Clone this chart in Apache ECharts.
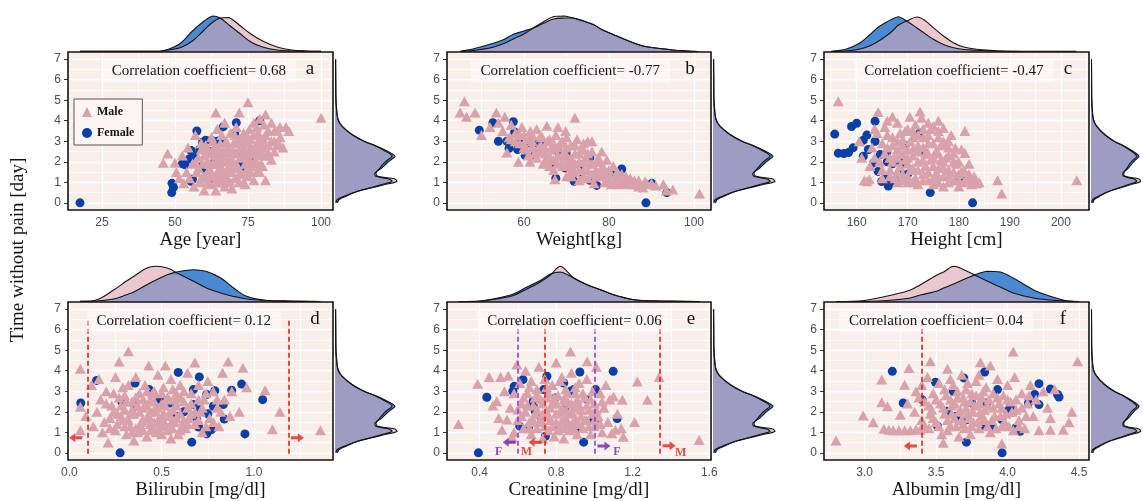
<!DOCTYPE html>
<html><head><meta charset="utf-8">
<script src="https://cdn.jsdelivr.net/npm/echarts@6/dist/echarts.min.js"></script>
<style>html,body{margin:0;padding:0;background:#fff}#c{width:1143px;height:501px}</style>
</head><body><div id="c"></div>
<script>
// ---------------- DATA ----------------
const panelLetters = ['a','b','c','d','e','f'];
const xTitles = ['Age [year]','Weight[kg]','Height [cm]','Bilirubin [mg/dl]','Creatinine [mg/dl]','Albumin [mg/dl]'];
const corrValues = ['0.68','-0.77','-0.47','0.12','0.06','0.04'];
const yTitle = 'Time without pain [day]';
const xRanges = [[13.4,104.1],[41.9,104],[153.6,205.5],[-0.007,1.428],[0.23,1.609],[2.716,4.57]];
const xTicks = [[25,50,75,100],[60,80,100],[160,170,180,190,200],[0,0.5,1.0],[0.4,0.8,1.2,1.6],[3.0,3.5,4.0,4.5]];
const xTickDecimals = [0,0,0,1,1,1];
const yRange = [-0.35, 7.35];
const yTicks = [0,1,2,3,4,5,6,7];

const maleA = [[46,1.95],[47.5,2.4],[50,1.95],[50.5,1.5],[51.5,1.2],[52.5,2.3],[53,0.95],[54,1.5],[54.5,2.7],[55,1.2],[56,1.9],[56.5,0.8],[57,3.3],[57.5,1.5],[58,2.2],[58.5,1.0],[59,2.6],[59.5,1.9],[60,0.6],[60,1.3],[60.5,2.8],[61,2.0],[61.5,1.6],[62,0.9],[62,2.4],[62,1.9],[62.5,3.2],[63,1.3],[63,1.9],[63,2.6],[63.5,2.7],[64,4.4],[64,0.6],[64,2.3],[64.5,3.6],[64.5,1.5],[65,2.2],[65,1.0],[65,1.4],[65.5,2.9],[66,1.7],[66,3.3],[66,2.0],[66.5,2.5],[67,0.8],[67,1.4],[67,3.9],[67.5,2.1],[68,2.9],[68,1.1],[68,2.6],[68.5,1.8],[69,2.5],[69,3.4],[69.5,0.7],[69.5,1.5],[70,2.0],[70,2.9],[70,1.7],[70.5,1.2],[71,2.4],[71,3.7],[71,1.2],[71.5,1.7],[72,4.4],[72,3.1],[72,1.0],[72,2.6],[72.5,2.2],[73,2.7],[73,1.4],[73.5,3.4],[74,1.9],[74,0.9],[74,2.3],[74.5,2.9],[75,4.9],[75,2.4],[75,1.3],[75.5,3.6],[76,1.8],[76,3.1],[76,2.0],[76.5,2.6],[77,1.1],[77,3.9],[77.5,2.1],[78,2.9],[78,1.5],[78,2.6],[78.5,3.4],[79,2.4],[79,4.1],[79.5,1.9],[80,3.1],[80,2.7],[80.5,3.8],[81,4.3],[81,1.1],[81,2.3],[82,3.5],[82,2.8],[83,3.9],[83,2.1],[84,3.0],[84,2.5],[85,3.5],[85.5,2.9],[86,3.7],[87,2.7],[88,3.7],[89,3.5],[100,4.15],
  [58,1.7],[59,1.2],[60,2.3],[61,1.0],[61.5,2.6],[62.5,1.5],[63.5,1.0],[64,1.9],[65,2.6],[65.5,1.2],[66.5,1.0],[67,2.3],[67.5,3.0],[68,1.5],[69,2.1],[69,1.0],[70,2.5],[70.5,3.3],[71,1.9],[71.5,2.9],[72.5,1.5],[73,2.3],[73,3.1],[73.5,1.0],[74,2.6],[74.5,1.6],[75,2.0],[75,3.2],[76,1.5],[76,2.7],[77,2.4],[77,3.3],[78,1.9],[78,3.7],[79,3.0],[79,1.5],[80,2.3],[80,1.8],[81,2.9],[81,3.3],[82,2.4],[83,3.0],[84,3.5],[85,2.8],[86,3.2],[66,1.3],[63,3.0],[61,1.4],[57,2.0],[59,2.9]];
const femaleA = [[17.5,0],[48.9,0.5],[49,0.95],[49.5,0.75],[52.5,1.9],[53.5,1.85],[55.5,1.05],[56,1.15],[55,2.15],[55.5,2.55],[56.5,2.3],[57.5,3.5],[58.5,2.6],[59,1.75],[59.5,2.95],[60.5,3.05],[61,1.45],[62,2.5],[62.5,3.05],[63,1.2],[64,2.9],[64.5,3.0],[65.5,3.05],[66,2.4],[66.5,3.7],[67,0.9],[68,2.45],[69,1.6],[70.5,3.4],[71,3.9],[71.5,2.4],[72,2.9],[73,1.9],[74.5,1.6],[76,2.2],[79,4.0],[60,1.7],[63.5,2.0]];

const maleB = [[45,4.4],[46,4.95],[46.5,4.2],[48.5,4.4],[50,3.3],[52,3.7],[53.5,4.4],[54,3.9],[55,3.5],[55.5,4.2],[56,2.45],[56.5,3.2],[57,3.8],[58,3.4],[58.7,2.0],[59,2.9],[59.5,3.7],[60,3.3],[60,2.7],[60.5,2.6],[61.4,2.0],[61.5,3.5],[62,3.0],[62.5,2.4],[63,3.6],[63,2.5],[63.5,2.7],[64,3.2],[64,3.3],[64.5,1.9],[65,2.4],[65.4,3.75],[65.5,3.0],[66,2.1],[66,2.3],[66.5,2.7],[67,1.6],[67,2.6],[67.3,1.15],[67.5,3.3],[68,2.3],[68,3.7],[68.5,2.9],[69,1.8],[69,2.0],[69.5,2.5],[69.8,3.5],[70,1.3],[70,2.3],[70.5,2.1],[71,2.8],[71,1.5],[71.2,1.3],[71.5,1.7],[72,2.4],[72,4.15],[72,1.9],[72.5,3.1],[73,1.1],[73,2.0],[73.5,2.6],[74,1.6],[74,2.0],[74.5,2.2],[75,3.0],[75,1.2],[75.5,1.9],[76,2.5],[76,3.0],[76,1.4],[76.5,0.95],[77,1.6],[77.5,2.2],[78,1.3],[78,1.6],[78.3,2.5],[78.5,1.8],[79,1.0],[79.5,2.1],[80,1.4],[80,1.1],[80.5,0.9],[81,1.8],[81.5,1.2],[82,1.5],[82.5,0.9],[83,1.1],[84,1.3],[84.5,0.95],[85,1.2],[86,0.9],[87,1.1],[88,0.75],[88.5,1.05],[90,0.95],[91,0.85],[92.8,0.9],[93.5,0.6],[95,0.65],[101.3,0.45],
  [58,3.0],[59,3.3],[60,2.9],[61,3.1],[62,2.7],[62,3.3],[63,2.2],[64,2.8],[64,2.5],[65,2.7],[65,2.0],[66,3.1],[66,1.8],[67,2.1],[67,2.9],[68,1.9],[68,2.7],[69,2.3],[69,3.0],[70,1.9],[70,2.7],[71,2.2],[71,1.8],[72,1.5],[72,2.8],[73,1.6],[73,2.4],[74,2.6],[74,1.3],[75,1.6],[75,2.4],[76,1.9],[77,1.3],[77,2.0],[78,2.0],[79,1.5],[79,1.3],[80,1.6],[81,1.0],[82,1.2],[83,1.4],[84,1.0],[85,0.9],[86,1.1],[87,0.8],[89,0.9],[61,2.3],[57,3.1],[70,3.2],[74,2.9]];
const femaleB = [[49.5,3.54],[52.7,3.9],[57.5,3.95],[57.8,3.45],[54,3.0],[56,3.0],[59.5,3.05],[56.5,2.65],[58.5,2.6],[60.5,2.85],[63.4,2.87],[60.3,2.3],[62.6,2.32],[65.7,2.06],[66.5,1.9],[68,2.5],[70,2.4],[69.6,1.7],[71.8,1.05],[73.2,1.86],[73.6,1.5],[75.5,2.2],[75.5,1.1],[77.1,0.85],[76.7,1.24],[80.3,1.5],[83,1.65],[84.2,1.05],[90.1,0.95],[93.6,0.5],[88.7,0],[64.5,2.9],[67.5,1.2]];

const maleC = [[156.4,4.95],[160.5,3.0],[161,2.2],[161.5,1.1],[162,1.05],[162.5,1.15],[162.6,1.8],[163,2.7],[163.5,3.6],[163.5,2.2],[164.2,4.43],[164,3.4],[164.5,2.0],[165,1.2],[165,2.9],[165.5,3.7],[166,2.7],[166,4.0],[166.5,1.6],[166.5,2.2],[167,4.2],[167,3.2],[167.5,2.3],[167.5,1.2],[168,1.0],[168,3.9],[168,2.6],[168.5,1.8],[168.5,3.4],[169,2.8],[169,1.4],[169.5,3.5],[169.5,2.1],[170,2.2],[170,3.6],[170,1.0],[170.4,4.2],[170.5,3.0],[170.5,1.6],[171,1.7],[171,2.6],[171.5,3.8],[171.5,1.2],[172,0.9],[172,2.0],[172,3.3],[172.4,4.45],[172.7,4.15],[173,3.2],[173,1.4],[173,2.7],[173.5,2.4],[173.5,1.8],[174,2.9],[174,1.1],[174.5,3.6],[174.5,2.1],[175,1.8],[175,3.74],[175,0.9],[175.5,2.5],[175.5,1.4],[176,1.3],[176,3.2],[176,4.0],[176.5,2.1],[176.5,2.8],[177,3.65],[177,0.8],[177,1.7],[177.5,2.8],[177.5,2.2],[178,1.6],[178,2.3],[178,1.0],[178.5,3.3],[179,1.1],[179,2.0],[179.3,2.68],[179.5,1.9],[180,0.8],[180,1.4],[180.5,1.5],[180.5,2.6],[181.2,3.5],[181.2,2.43],[181.5,1.2],[182,1.9],[182,1.4],[182.5,0.9],[183,1.3],[183.5,0.95],[184,1.0],[187.6,1.1],[188.4,0.45],[203.1,1.1],
  [165,1.6],[165.5,2.4],[166,3.3],[166.5,1.3],[167,2.0],[167,2.8],[168,1.5],[168,2.2],[169,1.1],[169,2.4],[169,3.1],[170,1.3],[170,1.9],[170,2.6],[171,1.0],[171,2.3],[171,3.2],[172,1.6],[172,2.5],[172,2.8],[173,1.1],[173,2.1],[173,3.6],[174,1.5],[174,2.4],[174,3.3],[175,1.2],[175,2.2],[175,2.9],[176,1.7],[176,2.4],[176,1.0],[177,2.0],[177,1.3],[177,3.0],[178,1.3],[178,2.7],[179,1.5],[179,2.4],[180,1.1],[180,2.0],[181,1.6],[181,1.0],[182,1.1],[183,1.0],[176,3.5],[174,3.9],[178,3.0],[168,3.0],[171,3.5]];
const femaleC = [[155.7,3.35],[156.4,2.42],[157.5,2.4],[158.4,2.45],[159.3,2.68],[159,3.72],[160,3.88],[161.3,2.27],[161.3,3.05],[162.3,2.6],[162,3.3],[163.6,3.98],[163.6,3.0],[163.3,1.94],[164.6,2.35],[164.2,1.53],[164.9,1.04],[165.5,1.2],[165.9,2.43],[166.5,0.96],[166.2,0.82],[167,1.9],[168.2,1.37],[168.8,1.94],[169.5,2.8],[170,1.4],[172.4,3.4],[173.4,2.42],[174.4,0.5],[180.3,1.15],[182.7,0],[166,2.0],[167.5,1.1]];

const maleD = [[0.06,4.1],[0.06,2.25],[0.06,1.1],[0.09,1.8],[0.12,3.3],[0.13,1.3],[0.15,2.0],[0.16,3.6],[0.17,2.6],[0.18,1.0],[0.19,1.5],[0.2,3.0],[0.21,0.5],[0.22,1.7],[0.23,2.3],[0.24,2.0],[0.25,3.7],[0.25,1.1],[0.26,1.4],[0.27,4.45],[0.27,2.7],[0.28,1.8],[0.29,1.6],[0.29,3.2],[0.3,2.1],[0.31,0.9],[0.31,2.5],[0.32,4.95],[0.32,3.3],[0.33,1.3],[0.33,1.9],[0.34,2.5],[0.35,0.6],[0.35,1.9],[0.36,3.7],[0.36,1.2],[0.37,1.0],[0.37,2.3],[0.38,2.9],[0.39,1.5],[0.4,2.2],[0.4,1.1],[0.41,3.3],[0.42,0.8],[0.42,1.7],[0.43,4.25],[0.43,1.8],[0.44,2.6],[0.44,1.4],[0.45,1.2],[0.45,2.9],[0.46,3.0],[0.46,2.1],[0.47,2.0],[0.47,1.0],[0.48,3.8],[0.48,1.6],[0.49,1.5],[0.5,2.4],[0.5,0.9],[0.5,1.3],[0.51,3.2],[0.51,1.9],[0.52,4.25],[0.52,1.8],[0.53,2.7],[0.53,1.1],[0.54,1.2],[0.55,3.6],[0.55,0.7],[0.56,2.1],[0.56,1.6],[0.57,1.5],[0.57,2.6],[0.58,2.9],[0.59,0.9],[0.6,3.3],[0.6,1.9],[0.61,1.3],[0.62,2.5],[0.63,1.2],[0.64,3.9],[0.65,1.7],[0.66,2.9],[0.68,4.4],[0.68,1.4],[0.7,3.3],[0.71,2.0],[0.72,1.0],[0.73,2.6],[0.75,3.5],[0.76,1.7],[0.78,3.0],[0.8,2.2],[0.81,1.3],[0.83,3.9],[0.84,2.6],[0.86,4.45],[0.87,1.8],[0.88,3.0],[0.92,2.0],[0.94,4.15],[0.96,3.2],[1.06,3.05],[1.1,1.15],[1.14,2.0],[1.36,1.1],
  [0.2,2.4],[0.22,1.2],[0.24,2.9],[0.26,1.9],[0.28,2.3],[0.3,1.3],[0.3,2.8],[0.32,1.6],[0.34,2.1],[0.34,1.0],[0.36,2.7],[0.38,1.3],[0.38,2.0],[0.4,1.6],[0.4,2.6],[0.42,2.3],[0.42,3.0],[0.44,1.1],[0.44,2.0],[0.46,1.5],[0.46,2.5],[0.48,1.2],[0.48,2.2],[0.5,1.7],[0.5,2.9],[0.52,1.4],[0.52,2.3],[0.54,1.9],[0.54,2.6],[0.56,1.2],[0.56,3.1],[0.58,1.7],[0.58,2.3],[0.6,1.1],[0.6,2.7],[0.62,1.6],[0.62,3.0],[0.64,2.2],[0.64,1.4],[0.66,1.9],[0.66,2.4],[0.68,2.0],[0.7,2.6],[0.7,1.6],[0.72,2.2],[0.74,1.3],[0.74,2.9],[0.78,1.5],[0.8,2.6],[0.82,2.0]];
const femaleD = [[0.062,2.43],[0.148,3.53],[0.275,0],[0.284,2.5],[0.356,3.4],[0.356,2.27],[0.433,3.08],[0.49,2.6],[0.545,2.43],[0.581,1.78],[0.59,3.92],[0.663,0.52],[0.672,2.35],[0.672,3.08],[0.69,1.62],[0.7,1.26],[0.704,3.7],[0.707,2.1],[0.744,2.84],[0.744,0.92],[0.77,1.13],[0.78,2.27],[0.788,3.03],[0.834,2.35],[0.839,1.65],[0.879,3.05],[0.933,3.35],[0.951,0.92],[1.047,2.59],[0.62,2.0],[0.75,1.9]];

const maleE = [[0.29,1.41],[0.39,3.37],[0.45,3.7],[0.47,2.3],[0.49,2.51],[0.5,1.7],[0.51,3.7],[0.517,1.13],[0.53,3.0],[0.543,1.62],[0.55,3.76],[0.56,2.2],[0.57,0.75],[0.58,1.0],[0.58,2.9],[0.595,4.3],[0.6,1.6],[0.61,3.4],[0.62,2.4],[0.63,1.2],[0.64,4.0],[0.64,2.0],[0.65,2.9],[0.66,1.5],[0.67,3.5],[0.67,0.9],[0.68,2.3],[0.69,1.9],[0.7,3.1],[0.7,1.2],[0.71,4.2],[0.72,2.6],[0.72,1.6],[0.73,0.7],[0.74,3.6],[0.75,2.0],[0.76,1.1],[0.76,2.9],[0.77,1.6],[0.78,3.3],[0.78,2.4],[0.79,0.8],[0.8,4.4],[0.8,1.9],[0.81,2.8],[0.82,1.3],[0.83,3.7],[0.83,2.2],[0.84,0.7],[0.85,1.7],[0.85,3.1],[0.86,2.5],[0.87,1.1],[0.875,4.94],[0.88,3.9],[0.88,2.0],[0.89,1.5],[0.9,2.9],[0.91,0.9],[0.92,3.4],[0.92,2.3],[0.93,1.8],[0.94,1.2],[0.95,2.7],[0.96,3.6],[0.96,1.6],[0.962,4.46],[0.97,2.1],[0.98,0.9],[0.99,3.0],[1.0,1.3],[1.0,2.4],[1.01,4.2],[1.02,1.8],[1.03,2.9],[1.04,1.0],[1.05,2.2],[1.06,3.3],[1.07,1.5],[1.08,2.6],[1.09,0.95],[1.1,2.75],[1.11,1.13],[1.12,1.9],[1.14,1.2],[1.146,2.59],[1.151,0.78],[1.21,1.5],[1.224,3.48],[1.277,2.59],[1.338,3.7],[1.547,0.62],
  [0.6,2.1],[0.62,1.8],[0.63,2.7],[0.65,2.3],[0.66,1.2],[0.68,1.6],[0.69,2.7],[0.7,2.1],[0.71,1.5],[0.73,2.4],[0.73,1.9],[0.74,1.3],[0.75,2.7],[0.76,1.8],[0.77,2.2],[0.78,1.3],[0.79,2.7],[0.8,1.5],[0.8,2.4],[0.81,1.1],[0.82,2.0],[0.83,1.6],[0.84,2.6],[0.84,1.2],[0.85,2.1],[0.86,1.4],[0.86,2.9],[0.87,1.9],[0.88,2.4],[0.89,1.2],[0.9,2.2],[0.9,1.7],[0.91,2.6],[0.92,1.4],[0.93,2.1],[0.94,2.9],[0.95,1.6],[0.96,2.3],[0.97,1.3],[0.98,2.6],[0.99,1.9],[1.0,1.6],[1.01,2.1],[1.03,1.4],[1.04,2.5],[0.7,2.8],[0.75,3.2],[0.82,3.5],[0.9,3.2],[0.66,3.2]];
const femaleE = [[0.394,0],[0.438,2.71],[0.574,3.0],[0.581,3.24],[0.627,3.57],[0.656,1.22],[0.682,2.27],[0.691,2.03],[0.717,1.78],[0.735,3.08],[0.744,0.81],[0.752,3.73],[0.796,2.67],[0.805,1.3],[0.84,3.4],[0.849,2.27],[0.875,3.0],[0.892,3.08],[0.91,1.22],[0.924,3.94],[0.944,0.52],[0.962,2.59],[0.997,1.62],[1.006,3.08],[1.014,1.54],[1.098,3.97],[1.119,1.67],[0.61,1.3],[0.68,2.5]];

const maleF = [[2.8,0.6],[2.99,1.82],[3.06,1.49],[3.12,2.46],[3.12,3.57],[3.135,1.17],[3.16,2.27],[3.17,1.13],[3.2,1.1],[3.24,1.1],[3.25,1.86],[3.28,3.32],[3.28,1.1],[3.3,2.4],[3.31,4.13],[3.32,1.1],[3.35,2.0],[3.36,1.15],[3.36,3.0],[3.39,1.13],[3.4,1.6],[3.42,2.5],[3.44,3.7],[3.45,1.2],[3.46,4.46],[3.46,1.9],[3.47,2.1],[3.48,2.9],[3.5,1.5],[3.52,3.4],[3.53,2.4],[3.54,0.9],[3.55,0.49],[3.56,1.9],[3.57,2.8],[3.58,4.1],[3.58,1.1],[3.6,1.3],[3.61,2.3],[3.62,3.3],[3.63,1.7],[3.65,2.7],[3.66,0.8],[3.67,2.1],[3.68,3.8],[3.69,1.4],[3.7,2.5],[3.71,3.1],[3.72,1.9],[3.74,0.9],[3.75,2.9],[3.76,1.5],[3.77,2.3],[3.78,3.5],[3.8,1.2],[3.81,2.0],[3.81,4.41],[3.82,2.7],[3.84,1.6],[3.85,3.2],[3.86,2.3],[3.88,1.0],[3.88,4.25],[3.9,2.9],[3.91,1.8],[3.93,3.6],[3.94,2.4],[3.96,1.3],[3.96,0.45],[3.97,2.8],[3.99,1.9],[4.0,3.3],[4.02,2.5],[4.04,1.1],[4.04,4.94],[4.05,3.7],[4.06,2.1],[4.08,1.6],[4.1,2.9],[4.12,1.2],[4.14,2.4],[4.16,3.3],[4.18,1.8],[4.2,2.6],[4.22,1.1],[4.25,3.0],[4.28,2.2],[4.3,1.7],[4.3,1.13],[4.33,3.1],[4.39,1.13],[4.43,1.49],[4.45,2.0],[4.49,4.46],
  [3.45,2.3],[3.48,1.7],[3.5,2.6],[3.52,1.3],[3.55,2.2],[3.56,3.1],[3.58,1.6],[3.6,2.6],[3.61,1.9],[3.63,2.4],[3.64,1.3],[3.65,3.0],[3.66,2.0],[3.68,1.6],[3.69,2.7],[3.7,1.2],[3.71,2.2],[3.72,3.4],[3.73,1.7],[3.74,2.5],[3.75,1.3],[3.76,2.0],[3.78,2.8],[3.79,1.5],[3.8,2.4],[3.82,1.8],[3.83,3.0],[3.84,2.1],[3.86,1.3],[3.87,2.6],[3.89,1.6],[3.9,2.2],[3.92,1.2],[3.93,2.7],[3.95,1.8],[3.96,2.2],[3.98,1.5],[4.0,2.6],[4.01,1.3],[4.03,2.0],[4.06,2.6],[4.08,1.3],[4.1,2.2],[4.13,1.8],[4.15,2.8],[3.42,1.3],[3.38,2.7],[3.6,3.6],[3.8,3.8],[3.4,3.3]];
const femaleF = [[3.194,3.97],[3.27,2.43],[3.403,2.59],[3.496,3.44],[3.51,1.3],[3.577,2.03],[3.62,3.0],[3.64,1.78],[3.694,3.65],[3.712,0.52],[3.716,1.62],[3.75,2.43],[3.83,1.33],[3.84,3.94],[3.856,2.43],[3.9,1.22],[3.93,3.08],[3.96,1.62],[3.962,0],[4.0,2.03],[4.02,2.27],[4.04,1.98],[4.06,1.22],[4.088,1.05],[4.146,2.43],[4.19,2.84],[4.22,3.37],[4.22,2.35],[4.3,3.11],[4.35,2.84],[4.36,2.72]];

// top marginal densities (relative heights), sampled at topX*
const topXA = [17.5,30,40,45,48,52,56,60,63,65.5,68.5,72,76,80,85,90,95,100];
const topMaleA = [0.6,0.6,0.6,0.8,2,4.5,11,22,30,34,34.5,27,18,11,5,2,1,0.6];
const topFemaleA = [0.6,0.6,0.6,1,3,9,21,31,36,34,27,19,10,5,2,1,0.8,0.6];
const topXB = [45,48,52,55,57.5,60,62.2,64.5,67,69.5,71.6,74,76.3,78.5,81,83.5,85.7,88,90.4,95,101];
const topMaleB = [0.5,1.5,4,8,13,18,24,30,35.5,36,34,31,27.5,22,17.5,13,9.3,6,4.3,2,0.5];
const topFemaleB = [0.8,3,7.7,12,17.7,21,24,28.5,33,34,34,31,27.5,22,17.5,13,9.3,6,4.3,2,0.5];
const topXC = [155,158,160.7,162.5,164,165.5,167,168.2,169.8,171.8,173.5,175,177,179,181,183.5,186.7,190,195,203];
const topMaleC = [0.5,1,3,6,10,15,21,27,31,35,31,24.3,16,9,5,2.7,1.5,0.8,0.6,0.6];
const topFemaleC = [0.8,3,9.3,17,24,29,33,35.3,31,24,18,12.7,7.5,4.3,2.5,1.7,1,0.7,0.5,0.5];
const topXD = [0.06,0.15,0.24,0.31,0.35,0.42,0.47,0.53,0.6,0.67,0.74,0.82,0.89,0.96,1.07,1.2,1.36];
const topMaleD = [0.8,2.3,12,21,25.7,34,35.7,34,27.5,21,14.3,9,5.5,3,1.5,1,0.5];
const topFemaleD = [0.6,1,3,7.3,10,17.3,22,27.3,30.7,32.3,30.7,24,14,5.7,1.5,0.8,0.5];
const topXE = [0.29,0.4,0.455,0.52,0.577,0.648,0.717,0.77,0.822,0.892,0.962,1.032,1.1,1.206,1.3,1.45,1.55];
const topMaleE = [0.5,0.8,2,4,6.5,13,20,27,35.7,24,17.3,12.3,7.3,2.3,1.2,0.8,0.5];
const topFemaleE = [0.5,1,2.5,5,8,15,21.5,28,30,24,17.3,12.3,7.3,2.3,1.2,0.6,0.4];
const topXF = [2.8,3.0,3.2,3.32,3.39,3.51,3.553,3.623,3.717,3.787,3.856,3.95,4.04,4.18,4.3,4.41,4.5];
const topMaleF = [0.5,1.5,7.3,12,17.3,27.3,30,35.7,30.7,25.7,21,15,9,4,2,1,0.5];
const topFemaleF = [0.3,0.5,2,4,7,11,14,18,24,28,30.7,30,24,12.3,5.7,1.3,0.5];

// right marginal density of time without pain (same in every panel)
const rightY = [0,0.15,0.3,0.55,0.72,0.88,1.04,1.16,1.29,1.45,1.7,1.94,2.1,2.27,2.5,2.76,3.0,3.33,3.74,4.06,4.55,5.04,6.0,7.0];
const rightMale = [1,2,8,22,36,49,62,60,43,41,45,49,53,57,51,41,29,17,7,3,1.7,1,0.8,0.6];
const rightFemale = [2.5,4,10,22,34,46,57,54,41,40,47,52,56,60,53,42,29,17,7,3,1.5,0.9,0.7,0.6];

// reference lines / arrows / labels (kind: M = male limit, F = female limit)
const refLines = [[],[],[],[{x:0.1,kind:'M'},{x:1.19,kind:'M'}],[{x:0.6,kind:'F'},{x:0.74,kind:'M'},{x:1.0,kind:'F'},{x:1.34,kind:'M'}],[{x:3.4,kind:'M'}]];
const refArrows = [[],[],[],[{x:0.035,y:0.73,dir:'L',kind:'M'},{x:1.235,y:0.73,dir:'R',kind:'M'}],
  [{x:0.555,y:0.52,dir:'L',kind:'F'},{x:0.69,y:0.52,dir:'L',kind:'M'},{x:1.05,y:0.33,dir:'R',kind:'F'},{x:1.39,y:0.35,dir:'R',kind:'M'}],
  [{x:3.32,y:0.33,dir:'L',kind:'M'}]];
const refLabels = [[],[],[],[],[{x:0.5,y:0.06,kind:'F'},{x:0.645,y:0.06,kind:'M'},{x:1.117,y:0.04,kind:'F'},{x:1.45,y:-0.02,kind:'M'}],[]];

const males = [maleA,maleB,maleC,maleD,maleE,maleF];
const females = [femaleA,femaleB,femaleC,femaleD,femaleE,femaleF];
const topX = [topXA,topXB,topXC,topXD,topXE,topXF];
const topMale = [topMaleA,topMaleB,topMaleC,topMaleD,topMaleE,topMaleF];
const topFemale = [topFemaleA,topFemaleB,topFemaleC,topFemaleD,topFemaleE,topFemaleF];

// ---------------- STYLE / LAYOUT ----------------
const C = {
  bg:'#F8EFEA', male:'#D9A2AB', female:'#0A3FA6', dPink:'#EBC8CE', dBlue:'#4B8AD3', dOver:'#9D9DC4',
  red:'#E3201B', purple:'#8A3FCF', purpleArrow:'#6D22A8', tick:'#4D4D4D', ink:'#141414'
};
const SERIF = '"Liberation Serif","DejaVu Serif",serif';
const SANS = '"Liberation Sans",Arial,sans-serif';
const LAY = { cols:[[68,265],[447,264],[824,265]], rows:[52,302], plotH:158, topH:42, rightW:65,
  corrFrac:[0.494,0.467,0.49,0.437,0.483,0.423], letterOff:[23,21,21,18,20,26] };

const grids=[], xAxes=[], yAxes=[], series=[], graphics=[];

function bbox(pts) {
  const mn=[Infinity,Infinity], mx=[-Infinity,-Infinity];
  pts.forEach(p=>{mn[0]=Math.min(mn[0],p[0]);mn[1]=Math.min(mn[1],p[1]);mx[0]=Math.max(mx[0],p[0]);mx[1]=Math.max(mx[1],p[1]);});
  return [mn,mx];
}
function densitySeries(gi, xs, male, female, vertical) {
  const ov = male.map((m,k)=>Math.min(m, female[k]));
  const P = (api, v, d) => api.coord(vertical ? [d, v] : [v, d]);
  const curve = (api, arr) => arr.map((d,k)=>P(api, xs[k], d));
  const area = (api, arr) => [P(api, xs[0], 0)].concat(curve(api, arr), [P(api, xs[xs.length-1], 0)]);
  const sm = 0.35;
  const poly = (pts, fill) => ({type:'polygon', shape:{points:pts, smooth:sm, smoothConstraint:bbox(pts)}, style:{fill}});
  const pl = (pts) => ({type:'polyline', shape:{points:pts, smooth:sm, smoothConstraint:bbox(pts)}, style:{stroke:C.ink, lineWidth:1.1, fill:null}});
  return {
    type:'custom', xAxisIndex:gi, yAxisIndex:gi, silent:true, clip:true, z:2,
    data:[vertical ? [1, xs[1]] : [xs[1], 1]],
    renderItem: function(params, api) {
      return { type:'group', children:[
        poly(area(api, male), C.dPink), poly(area(api, female), C.dBlue), poly(area(api, ov), C.dOver),
        pl(curve(api, male)), pl(curve(api, female))
      ]};
    }
  };
}

function minorOf(ticks, lo, hi) {
  const step = ticks.length > 1 ? ticks[1]-ticks[0] : 1;
  const out = [];
  for (let v = ticks[0] - step/2; v <= hi + 1e-9; v += step) if (v >= lo && v <= hi) out.push(+v.toFixed(6));
  return out;
}

for (let i=0;i<6;i++) {
  const [left, width] = LAY.cols[i%3];
  const top = LAY.rows[Math.floor(i/3)];
  const g = grids.length;
  const [xmin, xmax] = xRanges[i];
  grids.push({left, top, width, height:LAY.plotH, show:true, backgroundColor:C.bg, borderWidth:0});
  grids.push({left, top:top-LAY.topH, width, height:LAY.topH});
  grids.push({left:left+width+2, top, width:LAY.rightW, height:LAY.plotH});
  const dec = xTickDecimals[i];
  xAxes.push({gridIndex:g, type:'value', min:xmin, max:xmax,
    axisLine:{show:false}, splitLine:{show:false},
    axisTick:{show:true, customValues:xTicks[i], length:4, lineStyle:{color:'#333', width:1}},
    axisLabel:{customValues:xTicks[i], formatter:v=>Number(v).toFixed(dec), color:C.tick, fontSize:12, fontFamily:SANS, margin:7}});
  yAxes.push({gridIndex:g, type:'value', min:yRange[0], max:yRange[1],
    axisLine:{show:false}, splitLine:{show:false},
    axisTick:{show:true, customValues:yTicks, length:4, lineStyle:{color:'#333', width:1}},
    axisLabel:{customValues:yTicks, formatter:v=>String(Math.round(v)), color:C.tick, fontSize:12, fontFamily:SANS, margin:7}});
  xAxes.push({gridIndex:g+1, type:'value', min:xmin, max:xmax, show:false});
  yAxes.push({gridIndex:g+1, type:'value', min:0, max:LAY.topH, show:false});
  xAxes.push({gridIndex:g+2, type:'value', min:0, max:LAY.rightW, show:false});
  yAxes.push({gridIndex:g+2, type:'value', min:yRange[0], max:yRange[1], show:false});

  const gl = [];
  xTicks[i].forEach(v=>gl.push({xAxis:v, lineStyle:{width:1.3}}));
  minorOf(xTicks[i], xmin, xmax).forEach(v=>gl.push({xAxis:v, lineStyle:{width:0.7}}));
  yTicks.forEach(v=>gl.push({yAxis:v, lineStyle:{width:1.3}}));
  minorOf(yTicks, yRange[0], yRange[1]).forEach(v=>gl.push({yAxis:v, lineStyle:{width:0.7}}));
  series.push({type:'scatter', xAxisIndex:g, yAxisIndex:g, data:[], silent:true, z:1,
    markLine:{silent:true, symbol:'none', label:{show:false}, animation:false, z:1,
      lineStyle:{color:'#ffffff', type:'solid', opacity:1}, emphasis:{disabled:true}, data:gl}});

  series.push({name:'Female', type:'scatter', xAxisIndex:g, yAxisIndex:g, data:females[i], symbol:'circle', symbolSize:9,
    itemStyle:{color:C.female, opacity:1}, z:3, silent:true});
  series.push({name:'Male', type:'scatter', xAxisIndex:g, yAxisIndex:g, data:males[i], symbol:'triangle', symbolSize:[11,10],
    itemStyle:{color:C.male, opacity:1}, z:4, silent:true});

  if (refLines[i].length) {
    series.push({type:'scatter', xAxisIndex:g, yAxisIndex:g, data:[], silent:true, z:5,
      markLine:{silent:true, symbol:'none', label:{show:false}, animation:false, z:6,
        data: refLines[i].map(r=>[{coord:[r.x,-0.05], lineStyle:{color:r.kind==='M'?C.red:C.purple, type:[5,3], width:1.6}},{coord:[r.x,6.45]}])}});
  }
  if (refArrows[i].length) {
    series.push({type:'scatter', xAxisIndex:g, yAxisIndex:g, silent:true, z:6,
      data: refArrows[i].map(a=>({value:[a.x,a.y],
        symbol: a.dir==='R' ? 'path://M0,3 L7,3 L7,0 L13,4.5 L7,9 L7,6 L0,6 Z' : 'path://M13,3 L6,3 L6,0 L0,4.5 L6,9 L6,6 L13,6 Z',
        symbolSize:[13,9], itemStyle:{color:a.kind==='M'?C.red:C.purpleArrow}}))});
  }
  if (refLabels[i].length) {
    series.push({type:'scatter', xAxisIndex:g, yAxisIndex:g, silent:true, z:7, symbol:'circle', symbolSize:2,
      itemStyle:{color:'rgba(0,0,0,0)'},
      label:{show:true, position:'inside', fontFamily:SERIF, fontWeight:'bold', fontSize:12,
        formatter:p=>p.data.name, color:'inherit'},
      data: refLabels[i].map(l=>({value:[l.x,l.y], name:l.kind,
        label:{color:l.kind==='M'?C.red:C.purpleArrow}}))});
  }

  series.push(densitySeries(g+1, topX[i], topMale[i], topFemale[i], false));
  series.push(densitySeries(g+2, rightY, rightMale, rightFemale, true));

  graphics.push({type:'rect', z:50, silent:true, shape:{x:left, y:top, width, height:LAY.plotH},
    style:{fill:null, stroke:C.ink, lineWidth:1.6}});
  graphics.push({type:'text', z:40, silent:true, x:left+width*LAY.corrFrac[i], y:top+19,
    style:{text:'Correlation coefficient= '+corrValues[i], font:'15px '+SERIF, fill:C.ink, align:'center', verticalAlign:'middle',
      backgroundColor:'rgba(255,255,255,0.45)', padding:[4,10]}});
  graphics.push({type:'text', z:40, silent:true, x:left+width-LAY.letterOff[i], y:top+17,
    style:{text:panelLetters[i], font:'19px '+SERIF, fill:C.ink, align:'center', verticalAlign:'middle'}});
  graphics.push({type:'text', z:40, silent:true, x:left+width/2, y:top+LAY.plotH+30,
    style:{text:xTitles[i], font:'19px '+SERIF, fill:C.ink, align:'center', verticalAlign:'middle'}});
}
graphics.push({type:'text', z:40, silent:true, x:18, y:250, rotation:Math.PI/2,
  style:{text:yTitle, font:'19px '+SERIF, fill:C.ink, align:'center', verticalAlign:'middle'}});

const chart = echarts.init(document.getElementById('c'));
chart.setOption({
  animation:false,
  grid:grids, xAxis:xAxes, yAxis:yAxes, series,
  legend:{data:[{name:'Male', icon:'triangle'},{name:'Female', icon:'circle'}], orient:'vertical', left:74, top:99,
    itemWidth:10, itemHeight:10, itemGap:9, padding:[7,8,6,8], backgroundColor:'#FBF6F3', borderColor:'#555', borderWidth:1,
    textStyle:{fontFamily:SERIF, fontWeight:'bold', fontSize:12, color:C.ink}, selectedMode:false, z:60},
  graphic:graphics
});
</script></body></html>
